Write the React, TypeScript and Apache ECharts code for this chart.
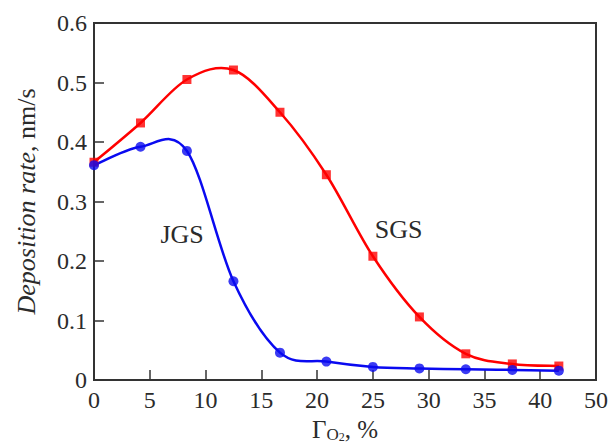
import React, { useEffect, useRef } from "react";
import * as echarts from "echarts";

const xValues = [0, 4.17, 8.33, 12.5, 16.67, 20.83, 25, 29.17, 33.33, 37.5, 41.67];
const sgsValues = [0.366, 0.432, 0.505, 0.521, 0.45, 0.345, 0.208, 0.106, 0.044, 0.027, 0.0235];
const jgsValues = [0.361, 0.392, 0.385, 0.166, 0.046, 0.031, 0.022, 0.0195, 0.018, 0.017, 0.0157];
const xTickLabels: Record<number, string> = { 0: "0", 5: "5", 10: "10", 15: "15", 20: "20", 25: "25", 30: "30", 35: "35", 40: "40", 45: "50" };
const seriesLabels = [
  { name: "JGS", x: 7.9, y: 0.245 },
  { name: "SGS", x: 27.3, y: 0.253 },
];

const FONT = "Liberation Serif";
const TXT = "#2b2b2b";
const RED = "#ff0000";
const BLUE = "#0a0af0";

// Smooth curve through the data points (Catmull-Rom as cubic Bezier), in pixel space
function curvePath(pts: number[][]) {
  if (pts.length < 2) return "";
  let d = `M${pts[0][0]},${pts[0][1]}`;
  for (let i = 0; i < pts.length - 1; i++) {
    const p0 = pts[i - 1] || pts[i];
    const p1 = pts[i];
    const p2 = pts[i + 1];
    const p3 = pts[i + 2] || pts[i + 1];
    const c1x = p1[0] + (p2[0] - p0[0]) / 6;
    const c1y = p1[1] + (p2[1] - p0[1]) / 6;
    const c2x = p2[0] - (p3[0] - p1[0]) / 6;
    const c2y = p2[1] - (p3[1] - p1[1]) / 6;
    d += ` C${c1x},${c1y} ${c2x},${c2y} ${p2[0]},${p2[1]}`;
  }
  return d;
}

export default function App() {
  const ref = useRef<HTMLDivElement>(null);
  useEffect(() => {
    if (!ref.current) return;
    const chart = echarts.init(ref.current, undefined, { renderer: "svg" });
    const pairs = (ys: number[]) => xValues.map((x, i) => [x, ys[i]]);
    const curveSeries = (name: string, ys: number[], color: string) => ({
      name: name + "-curve",
      type: "custom",
      data: pairs(ys),
      encode: { x: 0, y: 1 },
      clip: true,
      z: 1,
      silent: true,
      renderItem: (params: any, api: any) => {
        if (params.dataIndex !== 0) return null;
        const pts = xValues.map((x, i) => api.coord([x, ys[i]]));
        return {
          type: "path",
          shape: { pathData: curvePath(pts) },
          style: { fill: "none", stroke: color, lineWidth: 2.5 },
        };
      },
    });
    chart.setOption({
      animation: false,
      backgroundColor: "#ffffff",
      grid: {
        left: 94,
        right: 15,
        top: 23,
        bottom: 63,
        outerBoundsMode: "none",
        containLabel: false,
        show: true,
        borderColor: "#333",
        borderWidth: 2,
        backgroundColor: "transparent",
      },
      xAxis: {
        type: "value",
        min: 0,
        max: 45,
        interval: 5,
        name: "Γ{o|O}{two|2}, %",
        nameLocation: "middle",
        nameGap: 27,
        nameTextStyle: {
          fontFamily: FONT,
          fontSize: 25,
          color: TXT,
          rich: {
            o: { fontFamily: FONT, fontSize: 17, color: TXT, padding: [10, 0, 0, 0] },
            two: { fontFamily: FONT, fontSize: 12, color: TXT, padding: [15, 0, 0, 0] },
          },
        },
        axisLine: { show: true, lineStyle: { color: "#333", width: 2 } },
        axisTick: { show: true, inside: true, length: 10, lineStyle: { color: "#333", width: 1.5 } },
        axisLabel: {
          show: true,
          margin: 8,
          fontFamily: FONT,
          fontSize: 24,
          color: TXT,
          formatter: (v: number) => xTickLabels[v] ?? String(v),
        },
        splitLine: { show: false },
      },
      yAxis: {
        type: "value",
        min: 0,
        max: 0.6,
        interval: 0.1,
        name: "{i|Deposition rate}, nm/s",
        nameLocation: "middle",
        nameRotate: 90,
        nameGap: 55,
        nameTextStyle: {
          fontFamily: FONT,
          fontSize: 26,
          color: TXT,
          rich: {
            i: { fontFamily: FONT, fontSize: 26, fontStyle: "italic", color: TXT },
          },
        },
        axisLine: { show: true, lineStyle: { color: "#333", width: 2 } },
        axisTick: { show: true, inside: true, length: 10, lineStyle: { color: "#333", width: 1.5 } },
        axisLabel: {
          show: true,
          margin: 7,
          fontFamily: FONT,
          fontSize: 24,
          color: TXT,
          formatter: (v: number) => (v === 0 ? "0" : v.toFixed(1)),
        },
        splitLine: { show: false },
      },
      series: [
        curveSeries("SGS", sgsValues, RED),
        curveSeries("JGS", jgsValues, BLUE),
        {
          name: "SGS",
          type: "scatter",
          data: pairs(sgsValues),
          symbol: "rect",
          symbolSize: 9,
          itemStyle: { color: RED },
          z: 3,
        },
        {
          name: "JGS",
          type: "scatter",
          data: pairs(jgsValues),
          symbol: "circle",
          symbolSize: 10,
          itemStyle: { color: BLUE },
          z: 4,
          markPoint: {
            symbol: "circle",
            symbolSize: 0,
            data: seriesLabels.map((s) => ({
              coord: [s.x, s.y],
              value: s.name,
              label: {
                show: true,
                formatter: s.name,
                position: "inside",
                fontFamily: FONT,
                fontSize: 26,
                color: TXT,
              },
            })),
          },
        },
      ],
    });
    return () => chart.dispose();
  }, []);
  return <div ref={ref} style={{ position: "fixed", left: 0, top: 0, width: 611, height: 443 }} />;
}
